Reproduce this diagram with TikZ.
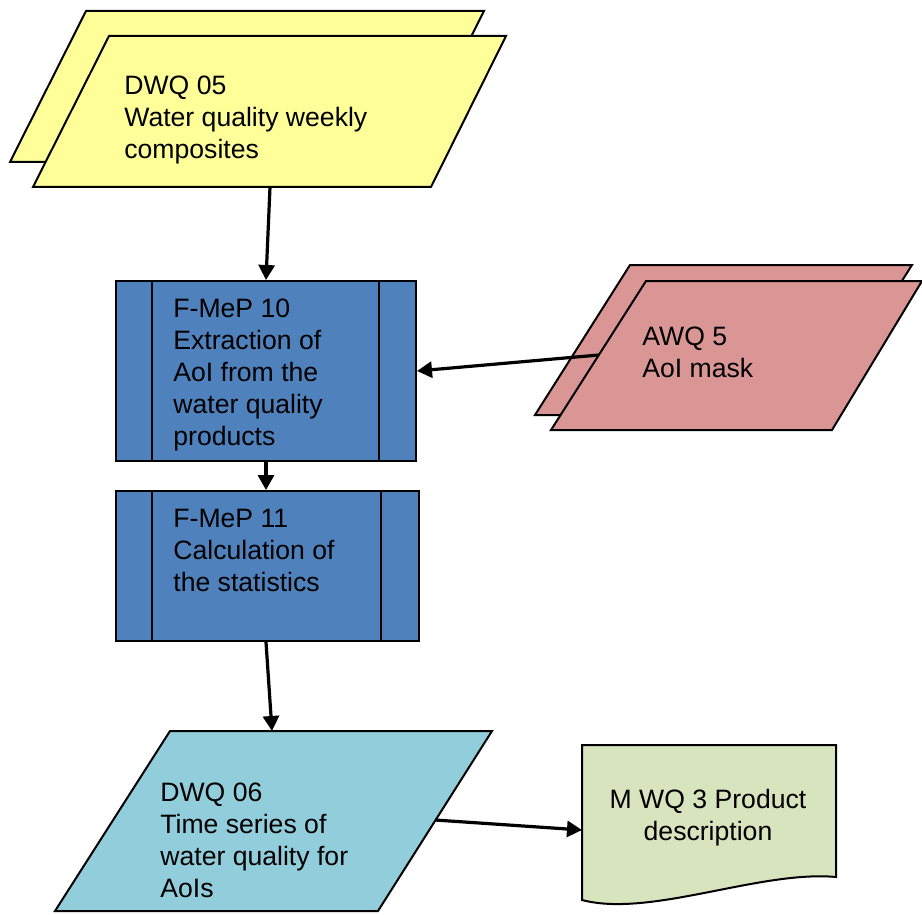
\documentclass[tikz,border=0pt]{standalone}
\usepackage{fontspec}
\setmainfont{Liberation Sans}
\usepackage{xcolor}
\usetikzlibrary{arrows.meta, positioning}

\definecolor{dataYellow}{HTML}{FFFF99}
\definecolor{maskPink}{HTML}{D99694}
\definecolor{procBlue}{HTML}{4F81BD}
\definecolor{seriesCyan}{HTML}{92CDDC}
\definecolor{docGreen}{HTML}{D7E4BD}

\begin{document}
\begin{tikzpicture}[
  x=0.5pt, y=-0.5pt,
  font=\fontsize{13.3}{16}\selectfont,
  datashape/.style={draw, line width=1pt, line join=miter},
  procbox/.style={draw, rectangle, line width=1pt, fill=procBlue, inner sep=0pt},
  txt/.style={anchor=north west, align=left, inner sep=0pt},
  arrow/.style={-{Triangle[length=7.5pt,width=8pt]}, line width=1.6pt}
]
\useasboundingbox (0,0) rectangle (922,915);

% Input data (stacked parallelograms)
\draw[datashape, fill=dataYellow] (86,11) -- (484,11) -- (408,162) -- (10,162) -- cycle;
\draw[datashape, fill=dataYellow] (109,36) -- (506,36) -- (431,187) -- (33,187) -- cycle;
\node[txt] (dwq05) at (124,76) {DWQ 05\\Water quality weekly\\composites};
\coordinate (dwq05out) at (270,187);

% Mask
\draw[datashape, fill=maskPink] (630,265) -- (912,265) -- (817,415) -- (535,415) -- cycle;
\draw[datashape, fill=maskPink] (646,281) -- (922,281) -- (832,430) -- (551,430) -- cycle;
\node[txt] (awq5) at (642,327) {AWQ 5\\AoI mask};
\coordinate (awq5out) at (599,355);

% Processing steps
\node[procbox, minimum width=150pt, minimum height=90pt] (fmep10) at (266,371) {};
\draw[line width=1pt] ([xshift=18.5pt]fmep10.north west) -- ([xshift=18.5pt]fmep10.south west);
\draw[line width=1pt] ([xshift=-19pt]fmep10.north east) -- ([xshift=-19pt]fmep10.south east);
\node[txt] (fmep10txt) at (173,299) {F-MeP 10\\Extraction of\\AoI from the\\water quality\\products};

\node[procbox, minimum width=151.5pt, minimum height=75pt] (fmep11) at (267.5,566) {};
\draw[line width=1pt] ([xshift=18.5pt]fmep11.north west) -- ([xshift=18.5pt]fmep11.south west);
\draw[line width=1pt] ([xshift=-19.5pt]fmep11.north east) -- ([xshift=-19.5pt]fmep11.south east);
\node[txt] (fmep11txt) at (173,509) {F-MeP 11\\Calculation of\\the statistics};

% Output time series
\draw[datashape, fill=seriesCyan] (170,731) -- (492,731) -- (378,911) -- (55,911) -- cycle;
\node[txt] (dwq06) at (160,783) {DWQ 06\\Time series of\\water quality for\\AoIs};
\coordinate (dwq06in) at (272,731);
\coordinate (dwq06out) at (435,820);

% Product description (document)
\draw[datashape, fill=docGreen] (582,745) -- (836,745) -- (836,877)
  .. controls (760,870) and (650,918) .. (582,900) -- cycle;
\node[align=center, anchor=north, inner sep=0pt] (mwq3) at (708,789) {M WQ 3 Product\\description};
\coordinate (mwq3in) at (582,830);

% Flows
\draw[arrow] (dwq05out) -- (fmep10.north);
\draw[arrow] (awq5out) -- (fmep10.east);
\draw[arrow] (fmep10.south) -- (fmep10.south |- fmep11.north);
\draw[arrow] (fmep11.south -| fmep10.south) -- (dwq06in);
\draw[arrow] (dwq06out) -- (mwq3in);

\end{tikzpicture}
\end{document}
